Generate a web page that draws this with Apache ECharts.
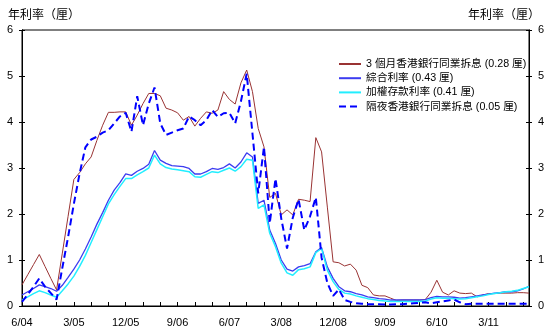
<!DOCTYPE html>
<html><head><meta charset="utf-8">
<script src="https://cdn.jsdelivr.net/npm/echarts@6/dist/echarts.min.js"></script>
<style>html,body{margin:0;padding:0;background:#fff}#c{width:549px;height:336px}</style>
</head><body><div id="c"></div>
<script>
const months = ['6/04','7/04','8/04','9/04','10/04','11/04','12/04',
'1/05','2/05','3/05','4/05','5/05','6/05','7/05','8/05','9/05','10/05','11/05','12/05',
'1/06','2/06','3/06','4/06','5/06','6/06','7/06','8/06','9/06','10/06','11/06','12/06',
'1/07','2/07','3/07','4/07','5/07','6/07','7/07','8/07','9/07','10/07','11/07','12/07',
'1/08','2/08','3/08','4/08','5/08','6/08','7/08','8/08','9/08','10/08','11/08','12/08',
'1/09','2/09','3/09','4/09','5/09','6/09','7/09','8/09','9/09','10/09','11/09','12/09',
'1/10','2/10','3/10','4/10','5/10','6/10','7/10','8/10','9/10','10/10','11/10','12/10',
'1/11','2/11','3/11','4/11','5/11','6/11','7/11','8/11','9/11','10/11'];

const hibor3m = [0.46,0.68,0.90,1.12,0.86,0.60,0.35,1.15,1.95,2.75,
2.90,3.09,3.24,3.60,3.93,4.21,4.21,4.22,4.22,3.93,
4.15,4.40,4.62,4.62,4.57,4.30,4.26,4.20,4.04,4.12,
3.91,4.08,4.22,4.19,4.26,4.66,4.49,4.39,4.85,5.13,
4.66,3.86,3.46,2.36,2.45,1.98,2.09,1.98,2.32,2.30,
2.27,3.66,3.35,2.15,0.96,0.94,0.87,0.91,0.78,0.45,
0.40,0.24,0.22,0.22,0.17,0.12,0.13,0.13,0.13,0.13,
0.14,0.30,0.56,0.30,0.24,0.33,0.28,0.27,0.28,0.20,
0.24,0.27,0.27,0.28,0.28,0.28,0.29,0.29,0.28];

const composite = [0.24,0.31,0.38,0.46,0.42,0.38,0.32,0.45,0.62,0.80,
1.00,1.24,1.50,1.78,2.03,2.30,2.52,2.68,2.87,2.84,
2.93,2.99,3.08,3.38,3.17,3.10,3.05,3.04,3.03,2.99,
2.87,2.87,2.92,2.99,2.97,3.01,3.09,3.00,3.13,3.33,
3.24,2.23,2.30,1.65,1.36,1.00,0.80,0.76,0.85,0.88,
0.92,1.18,1.27,0.85,0.60,0.42,0.33,0.31,0.27,0.24,
0.20,0.18,0.16,0.15,0.13,0.13,0.13,0.13,0.13,0.13,
0.14,0.18,0.21,0.20,0.20,0.19,0.17,0.18,0.20,0.22,
0.24,0.26,0.28,0.29,0.31,0.31,0.33,0.37,0.43];

const deposit = [0.13,0.20,0.27,0.33,0.29,0.24,0.19,0.33,0.48,0.65,
0.86,1.10,1.38,1.66,1.94,2.22,2.42,2.60,2.77,2.77,
2.85,2.92,3.00,3.28,3.09,3.01,2.98,2.96,2.94,2.92,
2.81,2.80,2.86,2.92,2.90,2.95,3.00,2.93,3.03,3.19,
3.17,2.12,2.20,1.58,1.29,0.93,0.72,0.67,0.79,0.81,
0.85,1.16,1.25,0.78,0.53,0.36,0.28,0.26,0.22,0.19,
0.16,0.14,0.12,0.11,0.10,0.10,0.10,0.10,0.10,0.10,
0.11,0.15,0.18,0.17,0.17,0.16,0.15,0.16,0.18,0.20,
0.22,0.25,0.27,0.29,0.31,0.32,0.34,0.38,0.42];

const overnight = [0.09,0.25,0.42,0.60,0.42,0.28,0.14,0.83,1.50,2.22,
2.88,3.45,3.62,3.68,3.77,3.82,3.97,4.12,4.20,3.79,
4.56,3.93,4.40,4.75,3.97,3.72,3.77,3.82,3.86,4.12,
4.04,3.93,4.04,4.26,4.11,4.19,4.20,3.97,4.45,5.05,
3.75,2.45,3.46,1.80,2.77,1.90,1.25,1.92,2.32,1.65,
1.95,2.36,1.05,0.50,0.22,0.36,0.13,0.09,0.06,0.05,
0.04,0.04,0.04,0.03,0.03,0.04,0.04,0.05,0.06,0.07,
0.08,0.06,0.08,0.10,0.12,0.14,0.08,0.04,0.05,0.05,
0.05,0.05,0.05,0.05,0.05,0.05,0.05,0.05,0.05];

const seriesNames = ['3 個月香港銀行同業拆息 (0.28 厘)','綜合利率 (0.43 厘)','加權存款利率 (0.41 厘)','隔夜香港銀行同業拆息 (0.05 厘)'];
const yTitle = '年利率（厘）';

const FONT = '"Liberation Sans", "Noto Sans CJK TC", sans-serif';
const chart = echarts.init(document.getElementById('c'), null, {renderer:'canvas'});
function yAx(pos, showLabel, inside){
  return {type:'value', position:pos, min:0, max:6, interval:1,
    axisLine:{show:true, lineStyle:{color:'#000', width:1}},
    axisTick:{show:true, inside:inside, length:3, lineStyle:{color:'#000'}},
    axisLabel:{show:showLabel, color:'#000', fontSize:11, fontFamily:FONT, margin:9},
    splitLine:{show:false}};
}
chart.setOption({
  animation:false,
  title:[
    {text:yTitle, left:3, top:3, textStyle:{fontSize:12, fontWeight:'normal', color:'#000', fontFamily:'"Noto Sans CJK TC", sans-serif'}},
    {text:yTitle, right:4, top:3, textStyle:{fontSize:12, fontWeight:'normal', color:'#000', fontFamily:'"Noto Sans CJK TC", sans-serif'}}
  ],
  grid:{left:22, right:20, top:30, bottom:30, show:true, borderColor:'#000', borderWidth:1, containLabel:false},
  legend:{orient:'vertical', left:333, top:52, itemWidth:22, itemHeight:10, itemGap:0.2,
    itemStyle:{opacity:0},
    textStyle:{fontSize:10.7, color:'#000', fontFamily:FONT, lineHeight:14},
    data:seriesNames},
  xAxis:{type:'category', data:months, boundaryGap:false,
    axisLine:{show:true, lineStyle:{color:'#000'}},
    axisTick:{show:true, inside:true, length:4, interval:function(i){return i%3===0;}, lineStyle:{color:'#000'}},
    axisLabel:{interval:8, color:'#000', fontSize:11, fontFamily:FONT, margin:11},
    splitLine:{show:false}},
  yAxis:[yAx('left',true,false), yAx('right',true,false), yAx('left',false,true), yAx('right',false,true)],
  series:[
    {name:seriesNames[0], type:'line', data:hibor3m, symbol:'none', lineStyle:{color:'#993333', width:1}, itemStyle:{color:'#993333'}},
    {name:seriesNames[1], type:'line', data:composite, symbol:'none', lineStyle:{color:'#3c3cf0', width:1.3}, itemStyle:{color:'#3c3cf0'}},
    {name:seriesNames[2], type:'line', data:deposit, symbol:'none', lineStyle:{color:'#22eeff', width:1.5}, itemStyle:{color:'#22eeff'}},
    {name:seriesNames[3], type:'line', data:overnight, symbol:'none', lineStyle:{color:'#0000ff', width:2, type:[7,4]}, itemStyle:{color:'#0000ff'}}
  ]
});
</script></body></html>
